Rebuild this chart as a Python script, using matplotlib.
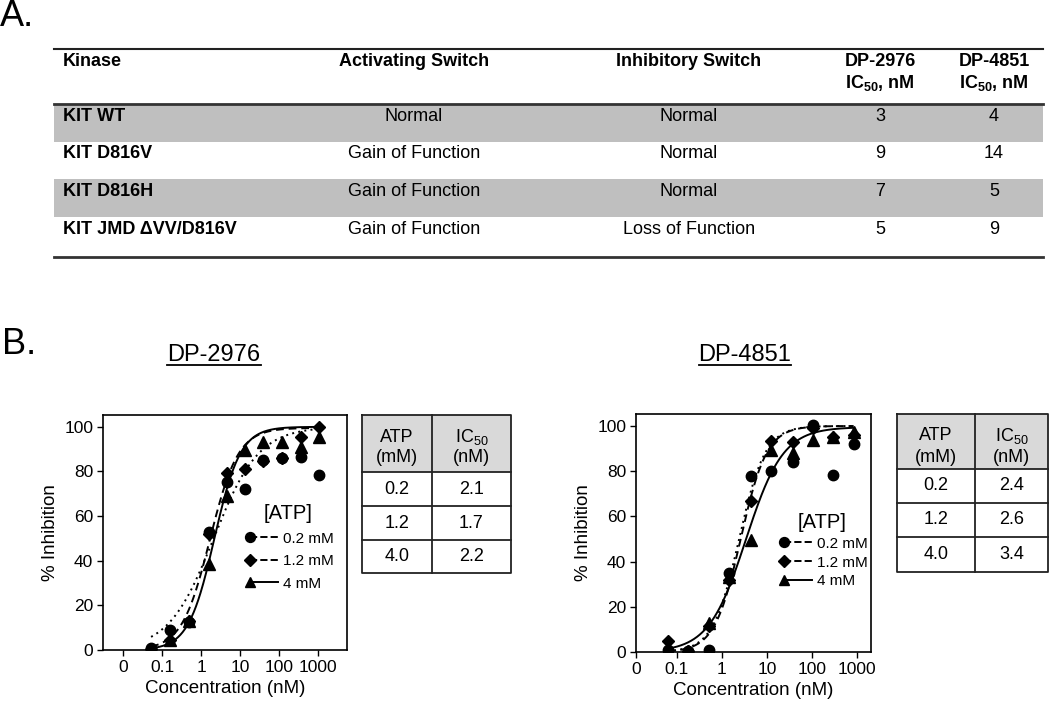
import numpy as np
import matplotlib
matplotlib.use("Agg")
import matplotlib.pyplot as plt
from matplotlib.lines import Line2D
from matplotlib.patches import Rectangle
from matplotlib.legend_handler import HandlerBase

plt.rcParams['font.family'] = ['Liberation Sans', 'DejaVu Sans']
plt.rcParams['mathtext.fontset'] = 'custom'
plt.rcParams['mathtext.rm'] = 'Liberation Sans'
plt.rcParams['mathtext.it'] = 'Liberation Sans:italic'
plt.rcParams['mathtext.bf'] = 'Liberation Sans:bold'

# ---------------- data ----------------
kinases = ["KIT WT", "KIT D816V", "KIT D816H", "KIT JMD \u0394VV/D816V"]
activating = ["Normal", "Gain of Function", "Gain of Function", "Gain of Function"]
inhibitory = ["Normal", "Normal", "Normal", "Loss of Function"]
ic50_dp2976 = [3, 9, 7, 5]
ic50_dp4851 = [4, 14, 5, 9]

atp_mM = ["0.2", "1.2", "4.0"]
ic50_atp_dp2976 = ["2.1", "1.7", "2.2"]
ic50_atp_dp4851 = ["2.4", "2.6", "3.4"]

atp_labels = ["0.2 mM", "1.2 mM", "4 mM"]

conc_dp2976 = [0.052, 0.16, 0.49, 1.58, 4.6, 13.5, 40, 117, 360, 1070]
inh_dp2976_02 = [1.0, 8.9, 12.7, 52.7, 75.2, 72.3, 85.0, 86.0, 86.6, 78.6]
inh_dp2976_12 = [0.5, 4.5, 13.0, 52.0, 79.4, 81.3, 84.6, 86.0, 95.6, 100.0]
inh_dp2976_40 = [0.0, 4.4, 13.0, 38.7, 68.8, 89.5, 93.2, 93.2, 91.0, 95.5]

conc_dp4851 = [0.063, 0.18, 0.52, 1.45, 4.4, 12.3, 37, 105, 295, 840]
inh_dp4851_02 = [1.0, 0.5, 0.7, 35.0, 78.0, 80.3, 84.2, 100.3, 78.2, 92.0]
inh_dp4851_12 = [4.7, 0.5, 11.4, 31.7, 67.0, 93.2, 93.0, 99.0, 95.0, 96.2]
inh_dp4851_40 = [1.0, 0.6, 13.0, 33.0, 49.5, 89.5, 88.0, 94.0, 95.1, 97.5]

# fitted 4-parameter logistic curves: (IC50, hill slope, bottom, top)
fit_dp2976 = [(2.1, 0.75, 0.0, 100.0), (1.7, 1.2, 0.0, 99.5), (2.2, 1.3, 0.0, 100.0)]
fit_dp4851 = [(2.4, 1.5, 0.0, 100.0), (2.6, 1.5, 0.0, 100.0), (3.4, 1.05, 0.0, 99.5)]

xtick_labels = ["0", "0.1", "1", "10", "100", "1000"]
ytick_values = [0, 20, 40, 60, 80, 100]

# ---------------- figure ----------------
W, H = 1050, 704
fig = plt.figure(figsize=(W / 100, H / 100), dpi=100)

# overlay axes in pixel coordinates for tables and labels
ov = fig.add_axes([0, 0, 1, 1])
ov.set_xlim(0, W)
ov.set_ylim(H, 0)
ov.axis('off')

ov.text(0, 16, "A.", fontsize=26, va='center', ha='left')
ov.text(2, 345, "B.", fontsize=26, va='center', ha='left')

# ---- Table A ----
tx0, tx1 = 54, 1043
gray = '#bfbfbf'
row_top = [104, 141.5, 179, 216.5]
row_h = 37.5
for i in range(len(kinases)):
    if i % 2 == 0:
        ov.add_patch(Rectangle((tx0, row_top[i]), tx1 - tx0, row_h, facecolor=gray,
                               edgecolor='none', zorder=1))
ov.plot([tx0, tx1], [49, 49], color='#222222', lw=1.5, zorder=3)
ov.plot([tx0, tx1], [104, 104], color='#333333', lw=2.0, zorder=3)
ov.plot([tx0, tx1], [257, 257], color='#333333', lw=2.0, zorder=3)

col_kin, col_act, col_inh, col_a, col_b = 63, 414, 689, 880, 994
hfs = 13
ov.text(col_kin, 61, "Kinase", fontsize=hfs, weight='bold', ha='left', va='center')
ov.text(col_act, 61, "Activating Switch", fontsize=hfs, weight='bold', ha='center', va='center')
ov.text(col_inh, 61, "Inhibitory Switch", fontsize=hfs, weight='bold', ha='center', va='center')
ov.text(col_a, 61, "DP-2976", fontsize=hfs, weight='bold', ha='center', va='center')
ov.text(col_b, 61, "DP-4851", fontsize=hfs, weight='bold', ha='center', va='center')
ov.text(col_a, 83, r"IC$_{\mathbf{50}}$, nM", fontsize=hfs, weight='bold', ha='center', va='center')
ov.text(col_b, 83, r"IC$_{\mathbf{50}}$, nM", fontsize=hfs, weight='bold', ha='center', va='center')

for i in range(len(kinases)):
    y = row_top[i] + 12.5
    ov.text(col_kin, y, kinases[i], fontsize=hfs, weight='bold', ha='left', va='center', zorder=4)
    ov.text(col_act, y, activating[i], fontsize=hfs, ha='center', va='center', zorder=4)
    ov.text(col_inh, y, inhibitory[i], fontsize=hfs, ha='center', va='center', zorder=4)
    ov.text(col_a, y, str(ic50_dp2976[i]), fontsize=hfs, ha='center', va='center', zorder=4)
    ov.text(col_b, y, str(ic50_dp4851[i]), fontsize=hfs, ha='center', va='center', zorder=4)


# ---- small ATP tables ----
def small_table(x0, xm, x1, ytop, yhead, rows_y, ybot, vals):
    ov.add_patch(Rectangle((x0, ytop), x1 - x0, yhead - ytop, facecolor='#d9d9d9',
                           edgecolor='none', zorder=1))
    lc = '#222222'
    lw = 1.3
    ov.plot([x0, x1, x1, x0, x0], [ytop, ytop, ybot, ybot, ytop], color=lc, lw=lw, zorder=3)
    ov.plot([xm, xm], [ytop, ybot], color=lc, lw=lw, zorder=3)
    for yy in [yhead] + rows_y:
        ov.plot([x0, x1], [yy, yy], color=lc, lw=lw, zorder=3)
    cxa = (x0 + xm) / 2
    cxb = (xm + x1) / 2
    fs = 13
    ov.text(cxa, ytop + 22, "ATP", fontsize=fs, ha='center', va='center')
    ov.text(cxa, ytop + 43, "(mM)", fontsize=fs, ha='center', va='center')
    ov.text(cxb, ytop + 22, r"IC$_{50}$", fontsize=fs, ha='center', va='center')
    ov.text(cxb, ytop + 43, "(nM)", fontsize=fs, ha='center', va='center')
    edges = [yhead] + rows_y + [ybot]
    for k in range(len(atp_mM)):
        yc = (edges[k] + edges[k + 1]) / 2
        ov.text(cxa, yc, atp_mM[k], fontsize=fs, ha='center', va='center')
        ov.text(cxb, yc, vals[k], fontsize=fs, ha='center', va='center')


small_table(362, 432, 511, 415, 472, [506, 540], 573, ic50_atp_dp2976)
small_table(897, 975, 1048, 414, 469, [503, 537], 572, ic50_atp_dp4851)


# ---- legend handler: marker at left, line to the right ----
class MarkerLeftHandler(HandlerBase):
    def create_artists(self, legend, orig_handle, xdescent, ydescent, width, height,
                       fontsize, trans):
        y = height / 2 - ydescent
        xl = -xdescent
        xm = xl + 0.2 * width
        line = Line2D([xm, xl + width], [y, y], color='black',
                      linestyle=orig_handle.get_linestyle(), lw=orig_handle.get_linewidth())
        mk = Line2D([xm], [y], color='black', marker=orig_handle.get_marker(),
                    markersize=orig_handle.get_markersize(), linestyle='none')
        line.set_transform(trans)
        mk.set_transform(trans)
        return [line, mk]


markers = ['o', 'D', '^']
msizes = [7.5, 6.0, 8.0]
lstyles = [(0, (1, 2.2)), (0, (4, 2.5)), '-']


def hill(x, ic50, h, bottom, top):
    return bottom + (top - bottom) / (1.0 + (ic50 / x) ** h)


def dose_plot(rect, conc, series, fits, xleft, xright, leg_anchor, leg_spacing):
    ax = fig.add_axes(rect)
    ax.set_xscale('log')
    for k in range(3):
        xs = np.logspace(np.log10(conc[0]), np.log10(conc[-1]), 300)
        ax.plot(xs, hill(xs, *fits[k]), color='black', linestyle=lstyles[k], lw=1.4, zorder=2)
    for k in range(3):
        ax.plot(conc, series[k], linestyle='none', marker=markers[k], markersize=msizes[k],
                color='black', zorder=3)
    ax.set_xlim(xleft, xright)
    ax.set_ylim(0, 105.3)
    ax.set_xticks([xleft if xleft > 0.011 else 0.01, 0.1, 1, 10, 100, 1000])
    ax.set_xticklabels(xtick_labels)
    ax.xaxis.set_minor_locator(matplotlib.ticker.NullLocator())
    ax.set_yticks(ytick_values)
    ax.tick_params(direction='out', length=4, width=1.0, labelsize=12.5, pad=3)
    for s in ax.spines.values():
        s.set_linewidth(1.2)
    ax.set_xlabel("Concentration (nM)", fontsize=13.5, labelpad=4)
    ax.set_ylabel("% Inhibition", fontsize=13.5, labelpad=4)
    handles = [Line2D([], [], color='black', marker=markers[k], markersize=msizes[k] * 0.95,
                      linestyle=lstyles[k], lw=1.4) for k in range(3)]
    ax.legend(handles, atp_labels, title="[ATP]", loc='upper left',
              bbox_to_anchor=leg_anchor, frameon=False, fontsize=11,
              title_fontsize=14.5, handlelength=2.3, handletextpad=0.3,
              labelspacing=leg_spacing, borderpad=0, borderaxespad=0,
              handler_map={Line2D: MarkerLeftHandler()})
    return ax


dose_plot([103 / W, 1 - 650 / H, 244 / W, 235 / H], conc_dp2976,
          [inh_dp2976_02, inh_dp2976_12, inh_dp2976_40], fit_dp2976,
          10 ** -2.52, 10 ** 3.75, (0.575, 0.62), 0.55)
dose_plot([636 / W, 1 - 652 / H, 235 / W, 238 / H], conc_dp4851,
          [inh_dp4851_02, inh_dp4851_12, inh_dp4851_40], fit_dp4851,
          10 ** -1.91, 10 ** 3.31, (0.6, 0.585), 0.32)

# ---- underlined compound titles ----
titles = [("DP-2976", 214), ("DP-4851", 745)]
tobjs = []
for name, cx in titles:
    tobjs.append(fig.text(cx / W, 1 - 355 / H, name, fontsize=17, ha='center', va='center'))
fig.canvas.draw()
for t in tobjs:
    bb = t.get_window_extent()
    yline = (bb.y0 + 1.0) / H
    fig.add_artist(Line2D([bb.x0 / W, bb.x1 / W], [yline, yline], color='black', lw=1.3,
                          transform=fig.transFigure))

fig.savefig("out.png", dpi=100)
